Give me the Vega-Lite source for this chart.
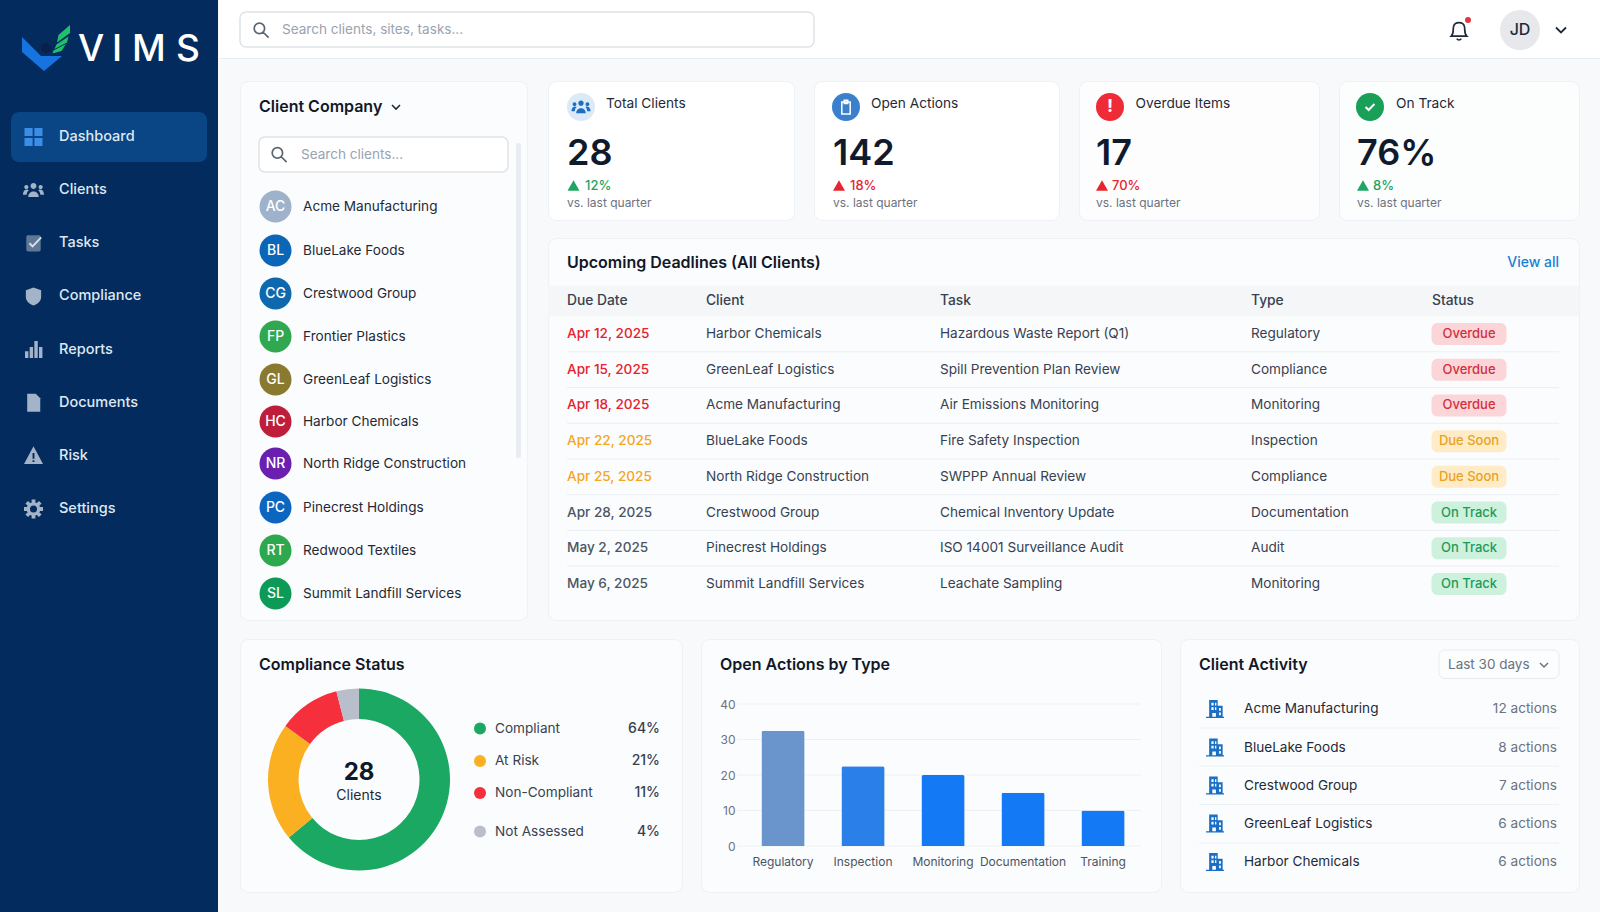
{
"$schema":"https://vega.github.io/schema/vega-lite/v6.json",
"padding":0,"background":"#f7f9fb","spacing":0,"resolve":{"scale":{"color":"independent"}},
"config":{"font":"Inter","view":{"stroke":null},"text":{"font":"Inter","baseline":"middle"},"axis":{"labelFont":"Inter"}},
"hconcat":[
{"width":218,"height":912,"view":{"fill":"#032b5e"},
"encoding":{"x":{"field":"col","type":"quantitative","axis":null,"scale":{"domain":[-1,0,1,2,3,4,5,6,7,8],"range":[46,33.5,59,91,117,149,188,11,207,109],"nice":false}},
"y":{"field":"row","type":"quantitative","axis":null,"scale":{"domain":[-1,0,7],"range":[50,137,509],"nice":false}}},
"layer":[
{"data":{"values":[{"col":8,"row":0}]},"mark":{"type":"rect","width":196,"height":50,"cornerRadius":8,"color":"#0a4585"}},
{"data":{"values":[{"col":-1,"row":-1}]},"mark":{"type":"point","filled":true,"opacity":1,"size":2500,"color":"#1673e0","shape":"M-.96 -.52L-.2 .24L.64 .24L-.08 .84L-.96 .08Z"}},
{"data":{"values":[{"col":-1,"row":-1}]},"mark":{"type":"point","filled":true,"opacity":1,"size":2500,"color":"#0a1f4a","shape":"M-.2 -.08a.2 .2 0 1 0 .4 0a.2 .2 0 1 0 -.4 0Z"}},
{"data":{"values":[{"col":-1,"row":-1}]},"mark":{"type":"point","filled":true,"opacity":1,"size":2500,"color":"#1fc16b","shape":"M.5 -.6L.96 -1L.96 -.68L.44 -.3ZM.42 -.22L.9 -.54L.84 -.3L.34 -.04ZM.3 .02L.8 -.24L.62 .04L.26 .14Z"}},
{"data":{"values":[{"col":2,"row":-1,"label":"V"},{"col":3,"row":-1,"label":"I"},{"col":4,"row":-1,"label":"M"},{"col":5,"row":-1,"label":"S"}]},"mark":{"type":"text","align":"center","fontSize":37,"fontWeight":500,"color":"#ffffff"},"encoding":{"text":{"field":"label"}}},
{"data":{"values":[{"col":0,"row":0}]},"mark":{"type":"point","filled":true,"opacity":1,"size":324,"color":"#3a8ee6","shape":"M-1 -1H-.1V-.1H-1ZM.1 -1H1V-.1H.1ZM-1 .1H-.1V1H-1ZM.1 .1H1V1H.1Z"}},
{"data":{"values":[{"col":0,"row":1}]},"mark":{"type":"point","filled":true,"opacity":1,"size":441,"color":"#a3b3c8","shape":"M-.28 -.4a.28 .28 0 1 0 .56 0a.28 .28 0 1 0 -.56 0ZM-.88 -.3a.2 .2 0 1 0 .4 0a.2 .2 0 1 0 -.4 0ZM.48 -.3a.2 .2 0 1 0 .4 0a.2 .2 0 1 0 -.4 0ZM-.5 .65C-.5 -.05 .5 -.05 .5 .65ZM-1 .45C-1 -.1 -.55 -.1 -.45 0C-.6 .1 -.65 .3 -.65 .45ZM1 .45C1 -.1 .55 -.1 .45 0C.6 .1 .65 .3 .65 .45Z"}},
{"data":{"values":[{"col":0,"row":2}]},"mark":{"type":"point","filled":true,"opacity":1,"size":324,"color":"#5f7896","shape":"M-.8 -.7C-.8 -.85 -.7 -.9 -.6 -.9H.6C.7 -.9 .8 -.85 .8 -.7V.7C.8 .85 .7 .9 .6 .9H-.6C-.7 .9 -.8 .85 -.8 .7Z"}},
{"data":{"values":[{"col":0,"row":2}]},"mark":{"type":"point","filled":false,"opacity":1,"size":324,"strokeWidth":2,"color":"#d5dde7","shape":"M-.45 0L-.1 .35L.85 -.65"}},
{"data":{"values":[{"col":0,"row":3}]},"mark":{"type":"point","filled":true,"opacity":1,"size":324,"color":"#a3b3c8","shape":"M0 -1L.85 -.7V.05C.85 .55 .4 .85 0 1C-.4 .85 -.85 .55 -.85 .05V-.7Z"}},
{"data":{"values":[{"col":0,"row":4}]},"mark":{"type":"point","filled":true,"opacity":1,"size":289,"color":"#a3b3c8","shape":"M-1 .2H-.6V1H-1ZM-.45 -.3H-.05V1H-.45ZM.1 -1H.5V1H.1ZM.65 -.3H1.05V1H.65Z"}},
{"data":{"values":[{"col":0,"row":5}]},"mark":{"type":"point","filled":true,"opacity":1,"size":324,"color":"#a3b3c8","shape":"M-.7 -1H.25L.75 -.5V1H-.7Z"}},
{"data":{"values":[{"col":0,"row":6}]},"mark":{"type":"point","filled":true,"opacity":1,"size":361,"color":"#a3b3c8","shape":"M0 -1L1 .85H-1ZM-.1 -.3V.3H.1V-.3ZM-.1 .45V.65H.1V.45Z"}},
{"data":{"values":[{"col":0,"row":7}]},"mark":{"type":"point","filled":true,"opacity":1,"size":361,"color":"#a3b3c8","shape":"M-.72 0a.72 .72 0 1 1 1.44 0a.72 .72 0 1 1 -1.44 0ZM-1 -.2H1V.2H-1ZM-.2 -1H.2V1H-.2ZM.85 .57L.57 .85L-.85 -.57L-.57 -.85ZM.57 -.85L.85 -.57L-.57 .85L-.85 .57Z"}},
{"data":{"values":[{"col":0,"row":7}]},"mark":{"type":"point","shape":"circle","filled":true,"opacity":1,"size":49,"color":"#032b5e"}},
{"data":{"values":[{"col":1,"row":0,"label":"Dashboard"},{"col":1,"row":1,"label":"Clients"},{"col":1,"row":2,"label":"Tasks"},{"col":1,"row":3,"label":"Compliance"},{"col":1,"row":4,"label":"Reports"},{"col":1,"row":5,"label":"Documents"},{"col":1,"row":6,"label":"Risk"},{"col":1,"row":7,"label":"Settings"}]},"mark":{"type":"text","align":"left","fontSize":14.5,"fontWeight":500,"color":"#dfe8f3"},"encoding":{"text":{"field":"label"}}}
]},
{"spacing":21,"resolve":{"scale":{"color":"independent"}},"vconcat":[
{"width":1382,"height":59,"view":{"fill":"#ffffff"},
"encoding":{"x":{"field":"col","type":"quantitative","axis":null,"scale":{"domain":[0,1,2,3,4,5,6,7,8,9],"range":[21,595,42,63,1240,1249,1301,1342,0,1382],"nice":false}},
"y":{"field":"row","type":"quantitative","axis":null,"scale":{"domain":[0,1,2,3,4],"range":[12,47,30,20,58.5],"nice":false}}},
"layer":[
{"data":{"values":[{"col":8,"col2":9,"row":4}]},"mark":{"type":"rule","color":"#e9edf2","strokeWidth":1},"encoding":{"x2":{"field":"col2"}}},
{"data":{"values":[{"col":0,"col2":1,"row":0,"row2":1}]},"mark":{"type":"rect","fill":"#ffffff","stroke":"#dfe3e8","strokeWidth":1.5,"cornerRadius":6},"encoding":{"x2":{"field":"col2"},"y2":{"field":"row2"}}},
{"data":{"values":[{"col":2,"row":2}]},"mark":{"type":"point","filled":false,"opacity":1,"size":256,"strokeWidth":1.7,"color":"#5b6675","shape":"M-.85 -.2a.65 .65 0 1 0 1.3 0a.65 .65 0 1 0 -1.3 0M.28 .28L.95 .95"}},
{"data":{"values":[{"col":3,"row":2,"label":"Search clients, sites, tasks..."}]},"mark":{"type":"text","align":"left","fontSize":13.55,"color":"#9aa3af"},"encoding":{"text":{"field":"label"}}},
{"data":{"values":[{"col":4,"row":2}]},"mark":{"type":"point","filled":false,"opacity":1,"size":484,"strokeWidth":1.7,"color":"#1f2937","shape":"M-.7 .55C-.45 .3 -.55 -.1 -.5 -.3C-.4 -.8 .4 -.8 .5 -.3C.55 -.1 .45 .3 .7 .55ZM-.2 .78C-.1 .95 .1 .95 .2 .78"}},
{"data":{"values":[{"col":5,"row":3}]},"mark":{"type":"point","shape":"circle","filled":true,"opacity":1,"size":36,"color":"#e5343f"}},
{"data":{"values":[{"col":6,"row":2}]},"mark":{"type":"point","shape":"circle","filled":true,"opacity":1,"size":1600,"color":"#e6e8ec"}},
{"data":{"values":[{"col":6,"row":2,"label":"JD"}]},"mark":{"type":"text","align":"center","fontSize":16,"fontWeight":500,"color":"#1f2937"},"encoding":{"text":{"field":"label"}}},
{"data":{"values":[{"col":7,"row":2}]},"mark":{"type":"point","filled":false,"opacity":1,"size":100,"strokeWidth":1.8,"color":"#1f2937","shape":"M-1 -.5L0 .5L1 -.5"}}
]},
{"spacing":0,"resolve":{"scale":{"color":"independent"}},"hconcat":[
{"width":20,"height":10,"data":{"values":[]},"mark":"text"},
{"spacing":17,"resolve":{"scale":{"color":"independent"}},"vconcat":[
{"spacing":19,"resolve":{"scale":{"color":"independent"}},"hconcat":[
{"width":287,"height":539,"view":{"fill":"#fbfcfd","stroke":"#eef1f5","cornerRadius":8},
"encoding":{"x":{"field":"col","type":"quantitative","axis":null,"scale":{"domain":[0,1,2,3,4,5,6,7,8,9],"range":[19,156,19,268,39,61,35.5,63,276,281],"nice":false}},
"y":{"field":"row","type":"quantitative","axis":null,"scale":{"domain":[-3,-2,-1.5,-1,-0.5,0,1,2,3,4,5,6,7,8,9,9.5],"range":[26,73.5,56,91,62,125.5,169.5,212.5,255.5,298.5,340.5,382.5,426.5,469.5,512.5,377],"nice":false}}},
"layer":[
{"data":{"values":[{"col":0,"row":-3,"label":"Client Company"}]},"mark":{"type":"text","align":"left","fontSize":16,"fontWeight":600,"color":"#111827"},"encoding":{"text":{"field":"label"}}},
{"data":{"values":[{"col":1,"row":-3}]},"mark":{"type":"point","filled":false,"opacity":1,"size":64,"strokeWidth":1.6,"color":"#1f2937","shape":"M-1 -.5L0 .5L1 -.5"}},
{"data":{"values":[{"col":8,"col2":9,"row":-0.5,"row2":9.5}]},"mark":{"type":"rect","color":"#e9ecf0","cornerRadius":2},"encoding":{"x2":{"field":"col2"},"y2":{"field":"row2"}}},
{"data":{"values":[{"col":2,"col2":3,"row":-1.5,"row2":-1}]},"mark":{"type":"rect","fill":"#ffffff","stroke":"#dfe3e8","strokeWidth":1.5,"cornerRadius":6},"encoding":{"x2":{"field":"col2"},"y2":{"field":"row2"}}},
{"data":{"values":[{"col":4,"row":-2}]},"mark":{"type":"point","filled":false,"opacity":1,"size":256,"strokeWidth":1.7,"color":"#5b6675","shape":"M-.85 -.2a.65 .65 0 1 0 1.3 0a.65 .65 0 1 0 -1.3 0M.28 .28L.95 .95"}},
{"data":{"values":[{"col":5,"row":-2,"label":"Search clients..."}]},"mark":{"type":"text","align":"left","fontSize":13.55,"color":"#9aa3af"},"encoding":{"text":{"field":"label"}}},
{"data":{"values":[{"row":0,"col":6,"initials":"AC"},{"row":1,"col":6,"initials":"BL"},{"row":2,"col":6,"initials":"CG"},{"row":3,"col":6,"initials":"FP"},{"row":4,"col":6,"initials":"GL"},{"row":5,"col":6,"initials":"HC"},{"row":6,"col":6,"initials":"NR"},{"row":7,"col":6,"initials":"PC"},{"row":8,"col":6,"initials":"RT"},{"row":9,"col":6,"initials":"SL"}]},
"layer":[
{"mark":{"type":"point","shape":"circle","filled":true,"opacity":1,"size":1024},"encoding":{"color":{"field":"initials","type":"nominal","legend":null,"scale":{"domain":["AC","BL","CG","FP","GL","HC","NR","PC","RT","SL"],"range":["#9fb2cb","#0b66b8","#0d68ad","#2fa84f","#8a7a2f","#be1e3c","#6a1fb0","#0c66bf","#2ea84f","#0c9a56"]}}}},
{"mark":{"type":"text","align":"center","fontSize":14,"fontWeight":500,"color":"#ffffff"},"encoding":{"text":{"field":"initials"}}}
]},
{"data":{"values":[{"row":0,"col":7,"label":"Acme Manufacturing"},{"row":1,"col":7,"label":"BlueLake Foods"},{"row":2,"col":7,"label":"Crestwood Group"},{"row":3,"col":7,"label":"Frontier Plastics"},{"row":4,"col":7,"label":"GreenLeaf Logistics"},{"row":5,"col":7,"label":"Harbor Chemicals"},{"row":6,"col":7,"label":"North Ridge Construction"},{"row":7,"col":7,"label":"Pinecrest Holdings"},{"row":8,"col":7,"label":"Redwood Textiles"},{"row":9,"col":7,"label":"Summit Landfill Services"}]},"mark":{"type":"text","align":"left","fontSize":13.6,"color":"#1f2937"},"encoding":{"text":{"field":"label"}}}
]},
{"spacing":16,"resolve":{"scale":{"color":"independent"}},"vconcat":[
{"spacing":18,"resolve":{"scale":{"color":"independent"}},"hconcat":[
{"width":246,"height":139,"view":{"fill":"#ffffff","stroke":"#eef1f5","cornerRadius":8},
"encoding":{"x":{"field":"col","type":"quantitative","axis":null,"scale":{"domain":[0,1,2,3,4],"range":[33,58,19,37,25.5],"nice":false}},
"y":{"field":"row","type":"quantitative","axis":null,"scale":{"domain":[0,1,2,3,4],"range":[26,23,73,104.5,122],"nice":false}}},
"layer":[
{"data":{"values":[{"col":0,"row":0}]},"mark":{"type":"point","shape":"circle","filled":true,"opacity":1,"size":784,"color":"#dce9f6"}},
{"data":{"values":[{"col":0,"row":0}]},"mark":{"type":"point","filled":true,"opacity":1,"size":361,"color":"#1a6fc4","shape":"M-.28 -.4a.28 .28 0 1 0 .56 0a.28 .28 0 1 0 -.56 0ZM-.88 -.3a.2 .2 0 1 0 .4 0a.2 .2 0 1 0 -.4 0ZM.48 -.3a.2 .2 0 1 0 .4 0a.2 .2 0 1 0 -.4 0ZM-.5 .65C-.5 -.05 .5 -.05 .5 .65ZM-1 .45C-1 -.1 -.55 -.1 -.45 0C-.6 .1 -.65 .3 -.65 .45ZM1 .45C1 -.1 .55 -.1 .45 0C.6 .1 .65 .3 .65 .45Z"}},
{"data":{"values":[{"col":1,"row":1,"label":"Total Clients"}]},"mark":{"type":"text","align":"left","fontSize":13.7,"fontWeight":400,"color":"#1f2937"},"encoding":{"text":{"field":"label"}}},
{"data":{"values":[{"col":2,"row":2,"label":"28"}]},"mark":{"type":"text","align":"left","fontSize":36,"fontWeight":600,"color":"#0f1b2d"},"encoding":{"text":{"field":"label"}}},
{"data":{"values":[{"col":4,"row":3}]},"mark":{"type":"point","shape":"triangle-up","filled":true,"opacity":1,"size":144,"color":"#1fa463"}},
{"data":{"values":[{"col":3,"row":3,"label":"12%"}]},"mark":{"type":"text","align":"left","fontSize":13,"fontWeight":500,"color":"#1fa463"},"encoding":{"text":{"field":"label"}}},
{"data":{"values":[{"col":2,"row":4,"label":"vs. last quarter"}]},"mark":{"type":"text","align":"left","fontSize":12,"color":"#6b7280"},"encoding":{"text":{"field":"label"}}}
]},
{"width":245,"height":139,"view":{"fill":"#ffffff","stroke":"#eef1f5","cornerRadius":8},
"encoding":{"x":{"field":"col","type":"quantitative","axis":null,"scale":{"domain":[0,1,2,3,4],"range":[32,57,19,36,25],"nice":false}},
"y":{"field":"row","type":"quantitative","axis":null,"scale":{"domain":[0,1,2,3,4],"range":[26,23,73,104.5,122],"nice":false}}},
"layer":[
{"data":{"values":[{"col":0,"row":0}]},"mark":{"type":"point","shape":"circle","filled":true,"opacity":1,"size":784,"color":"#3a80cc"}},
{"data":{"values":[{"col":0,"row":0}]},"mark":{"type":"point","filled":false,"opacity":1,"size":196,"strokeWidth":1.5,"color":"#ffffff","shape":"M-.6 -.7H.6V1H-.6ZM-.25 -.95H.25V-.5H-.25Z"}},
{"data":{"values":[{"col":1,"row":1,"label":"Open Actions"}]},"mark":{"type":"text","align":"left","fontSize":13.7,"fontWeight":400,"color":"#1f2937"},"encoding":{"text":{"field":"label"}}},
{"data":{"values":[{"col":2,"row":2,"label":"142"}]},"mark":{"type":"text","align":"left","fontSize":36,"fontWeight":600,"color":"#0f1b2d"},"encoding":{"text":{"field":"label"}}},
{"data":{"values":[{"col":4,"row":3}]},"mark":{"type":"point","shape":"triangle-up","filled":true,"opacity":1,"size":144,"color":"#e5262f"}},
{"data":{"values":[{"col":3,"row":3,"label":"18%"}]},"mark":{"type":"text","align":"left","fontSize":13,"fontWeight":500,"color":"#e5262f"},"encoding":{"text":{"field":"label"}}},
{"data":{"values":[{"col":2,"row":4,"label":"vs. last quarter"}]},"mark":{"type":"text","align":"left","fontSize":12,"color":"#6b7280"},"encoding":{"text":{"field":"label"}}}
]},
{"width":240,"height":139,"view":{"fill":"#fdfdfe","stroke":"#eef1f5","cornerRadius":8},
"encoding":{"x":{"field":"col","type":"quantitative","axis":null,"scale":{"domain":[0,1,2,3,4],"range":[31,56.6,17,33,23],"nice":false}},
"y":{"field":"row","type":"quantitative","axis":null,"scale":{"domain":[0,1,2,3,4],"range":[26,23,73,104.5,122],"nice":false}}},
"layer":[
{"data":{"values":[{"col":0,"row":0}]},"mark":{"type":"point","shape":"circle","filled":true,"opacity":1,"size":784,"color":"#ee2b36"}},
{"data":{"values":[{"col":0,"row":0,"label":"!"}]},"mark":{"type":"text","align":"center","fontSize":18,"fontWeight":700,"color":"#ffffff"},"encoding":{"text":{"field":"label"}}},
{"data":{"values":[{"col":1,"row":1,"label":"Overdue Items"}]},"mark":{"type":"text","align":"left","fontSize":13.7,"fontWeight":400,"color":"#1f2937"},"encoding":{"text":{"field":"label"}}},
{"data":{"values":[{"col":2,"row":2,"label":"17"}]},"mark":{"type":"text","align":"left","fontSize":36,"fontWeight":600,"color":"#0f1b2d"},"encoding":{"text":{"field":"label"}}},
{"data":{"values":[{"col":4,"row":3}]},"mark":{"type":"point","shape":"triangle-up","filled":true,"opacity":1,"size":144,"color":"#e5262f"}},
{"data":{"values":[{"col":3,"row":3,"label":"70%"}]},"mark":{"type":"text","align":"left","fontSize":13,"fontWeight":500,"color":"#e5262f"},"encoding":{"text":{"field":"label"}}},
{"data":{"values":[{"col":2,"row":4,"label":"vs. last quarter"}]},"mark":{"type":"text","align":"left","fontSize":12,"color":"#6b7280"},"encoding":{"text":{"field":"label"}}}
]},
{"width":240,"height":139,"view":{"fill":"#fcfdfd","stroke":"#eef1f5","cornerRadius":8},
"encoding":{"x":{"field":"col","type":"quantitative","axis":null,"scale":{"domain":[0,1,2,3,4],"range":[31,57,18,34,24],"nice":false}},
"y":{"field":"row","type":"quantitative","axis":null,"scale":{"domain":[0,1,2,3,4],"range":[26,23,73,104.5,122],"nice":false}}},
"layer":[
{"data":{"values":[{"col":0,"row":0}]},"mark":{"type":"point","shape":"circle","filled":true,"opacity":1,"size":784,"color":"#18a058"}},
{"data":{"values":[{"col":0,"row":0}]},"mark":{"type":"point","filled":false,"opacity":1,"size":121,"strokeWidth":2,"color":"#ffffff","shape":"M-.8 0L-.25 .55L.8 -.55"}},
{"data":{"values":[{"col":1,"row":1,"label":"On Track"}]},"mark":{"type":"text","align":"left","fontSize":13.7,"fontWeight":400,"color":"#1f2937"},"encoding":{"text":{"field":"label"}}},
{"data":{"values":[{"col":2,"row":2,"label":"76%"}]},"mark":{"type":"text","align":"left","fontSize":36,"fontWeight":600,"color":"#0f1b2d"},"encoding":{"text":{"field":"label"}}},
{"data":{"values":[{"col":4,"row":3}]},"mark":{"type":"point","shape":"triangle-up","filled":true,"opacity":1,"size":144,"color":"#1fa463"}},
{"data":{"values":[{"col":3,"row":3,"label":"8%"}]},"mark":{"type":"text","align":"left","fontSize":13,"fontWeight":500,"color":"#1fa463"},"encoding":{"text":{"field":"label"}}},
{"data":{"values":[{"col":2,"row":4,"label":"vs. last quarter"}]},"mark":{"type":"text","align":"left","fontSize":12,"color":"#6b7280"},"encoding":{"text":{"field":"label"}}}
]}
]},
{"width":1031,"height":382,"view":{"fill":"#fbfcfd","stroke":"#eef1f5","cornerRadius":8},
"encoding":{"x":{"field":"col","type":"quantitative","axis":null,"scale":{"domain":[-1,0,1,2,3,4,4.25,4.5,5,6],"range":[0,19,158,392,703,884,921,958,1011,1031],"nice":false}},
"y":{"field":"row","type":"quantitative","axis":null,"scale":{"domain":[0,7],"range":[96,346],"nice":false}}},
"resolve":{"scale":{"color":"independent"}},
"layer":[
{"data":{"values":[{"col":-1,"col2":6,"row":-1.35,"row2":-0.5}]},"mark":{"type":"rect","color":"#f4f6f8"},"encoding":{"x2":{"field":"col2"},"y2":{"field":"row2"}}},
{"data":{"values":[{"col":0,"col2":5,"row":0.5},{"col":0,"col2":5,"row":1.5},{"col":0,"col2":5,"row":2.5},{"col":0,"col2":5,"row":3.5},{"col":0,"col2":5,"row":4.5},{"col":0,"col2":5,"row":5.5},{"col":0,"col2":5,"row":6.5}]},"mark":{"type":"rule","color":"#eceff3","strokeWidth":1},"encoding":{"x2":{"field":"col2"}}},
{"data":{"values":[{"col":0,"row":-1.99,"label":"Upcoming Deadlines (All Clients)"}]},"mark":{"type":"text","align":"left","fontSize":16,"fontWeight":600,"color":"#111827"},"encoding":{"text":{"field":"label"}}},
{"data":{"values":[{"col":5,"row":-1.99,"label":"View all"}]},"mark":{"type":"text","align":"right","fontSize":14,"fontWeight":500,"color":"#1a7fd6"},"encoding":{"text":{"field":"label"}}},
{"data":{"values":[{"col":0,"row":-0.92,"label":"Due Date"},{"col":1,"row":-0.92,"label":"Client"},{"col":2,"row":-0.92,"label":"Task"},{"col":3,"row":-0.92,"label":"Type"},{"col":4,"row":-0.92,"label":"Status"}]},"mark":{"type":"text","align":"left","fontSize":13.8,"fontWeight":500,"color":"#374151"},"encoding":{"text":{"field":"label"}}},
{"data":{"values":[{"col":0,"row":0,"label":"Apr 12, 2025","status":"Overdue"},{"col":0,"row":1,"label":"Apr 15, 2025","status":"Overdue"},{"col":0,"row":2,"label":"Apr 18, 2025","status":"Overdue"},{"col":0,"row":3,"label":"Apr 22, 2025","status":"Due Soon"},{"col":0,"row":4,"label":"Apr 25, 2025","status":"Due Soon"},{"col":0,"row":5,"label":"Apr 28, 2025","status":"On Track"},{"col":0,"row":6,"label":"May 2, 2025","status":"On Track"},{"col":0,"row":7,"label":"May 6, 2025","status":"On Track"}]},"mark":{"type":"text","align":"left","fontSize":13.6,"fontWeight":500},"encoding":{"text":{"field":"label"},"color":{"field":"status","type":"nominal","legend":null,"scale":{"domain":["Overdue","Due Soon","On Track"],"range":["#e5222e","#f5a623","#4b5563"]}}}},
{"data":{"values":[{"col":1,"row":0,"label":"Harbor Chemicals"},{"col":1,"row":1,"label":"GreenLeaf Logistics"},{"col":1,"row":2,"label":"Acme Manufacturing"},{"col":1,"row":3,"label":"BlueLake Foods"},{"col":1,"row":4,"label":"North Ridge Construction"},{"col":1,"row":5,"label":"Crestwood Group"},{"col":1,"row":6,"label":"Pinecrest Holdings"},{"col":1,"row":7,"label":"Summit Landfill Services"},{"col":2,"row":0,"label":"Hazardous Waste Report (Q1)"},{"col":2,"row":1,"label":"Spill Prevention Plan Review"},{"col":2,"row":2,"label":"Air Emissions Monitoring"},{"col":2,"row":3,"label":"Fire Safety Inspection"},{"col":2,"row":4,"label":"SWPPP Annual Review"},{"col":2,"row":5,"label":"Chemical Inventory Update"},{"col":2,"row":6,"label":"ISO 14001 Surveillance Audit"},{"col":2,"row":7,"label":"Leachate Sampling"},{"col":3,"row":0,"label":"Regulatory"},{"col":3,"row":1,"label":"Compliance"},{"col":3,"row":2,"label":"Monitoring"},{"col":3,"row":3,"label":"Inspection"},{"col":3,"row":4,"label":"Compliance"},{"col":3,"row":5,"label":"Documentation"},{"col":3,"row":6,"label":"Audit"},{"col":3,"row":7,"label":"Monitoring"}]},"mark":{"type":"text","align":"left","fontSize":13.6,"color":"#374151"},"encoding":{"text":{"field":"label"}}},
{"data":{"values":[{"col":4.25,"row":0,"status":"Overdue"},{"col":4.25,"row":1,"status":"Overdue"},{"col":4.25,"row":2,"status":"Overdue"},{"col":4.25,"row":3,"status":"Due Soon"},{"col":4.25,"row":4,"status":"Due Soon"},{"col":4.25,"row":5,"status":"On Track"},{"col":4.25,"row":6,"status":"On Track"},{"col":4.25,"row":7,"status":"On Track"}]},
"layer":[
{"mark":{"type":"rect","width":75,"height":22,"cornerRadius":6},"encoding":{"color":{"field":"status","type":"nominal","legend":null,"scale":{"domain":["Overdue","Due Soon","On Track"],"range":["#fbd5d8","#ffecc7","#cdf1dc"]}}}},
{"mark":{"type":"text","align":"center","fontSize":13,"fontWeight":500},"encoding":{"text":{"field":"status"},"color":{"field":"status","type":"nominal","legend":null,"scale":{"domain":["Overdue","Due Soon","On Track"],"range":["#d0303f","#e8a21f","#1f9a5a"]}}}}
],"resolve":{"scale":{"color":"independent"}}}
]}
]}
]},
{"spacing":17,"resolve":{"scale":{"color":"independent"}},"hconcat":[
{"width":442,"height":253,"view":{"fill":"#fbfcfd","stroke":"#eef1f5","cornerRadius":8},
"encoding":{"x":{"field":"col","type":"quantitative","axis":null,"scale":{"domain":[0,1,2,3,4],"range":[19,240,255,420,119],"nice":false}},
"y":{"field":"row","type":"quantitative","axis":null,"scale":{"domain":[0,1,2,3,4,5,6],"range":[26,89.5,122,154,192.5,134,157],"nice":false}}},
"resolve":{"scale":{"x":"independent","y":"independent"}},
"layer":[
{"data":{"values":[{"status":"Compliant","share":64,"seq":1,"place":"donut"},{"status":"At Risk","share":21,"seq":2,"place":"donut"},{"status":"Non-Compliant","share":11,"seq":3,"place":"donut"},{"status":"Not Assessed","share":4,"seq":4,"place":"donut"}]},
"mark":{"type":"arc","innerRadius":60.5,"outerRadius":91},
"encoding":{"x":{"field":"place","type":"nominal","axis":null,"scale":{"type":"point","domain":["donut"],"range":[0,238]}},"y":{"field":"place","type":"nominal","axis":null,"scale":{"type":"point","domain":["donut"],"range":[0,281]}},"theta":{"field":"share","type":"quantitative"},"order":{"field":"seq"},"color":{"field":"status","type":"nominal","legend":null,"scale":{"domain":["Compliant","At Risk","Non-Compliant","Not Assessed"],"range":["#1aa862","#fbb022","#f5303c","#b8bfca"]}}}},
{"data":{"values":[{"col":0,"row":0,"label":"Compliance Status"}]},"mark":{"type":"text","align":"left","fontSize":16,"fontWeight":600,"color":"#111827"},"encoding":{"text":{"field":"label"}}},
{"data":{"values":[{"col":4,"row":5,"label":"28"}]},"mark":{"type":"text","align":"center","fontSize":24,"fontWeight":700,"color":"#111827"},"encoding":{"text":{"field":"label"}}},
{"data":{"values":[{"col":4,"row":6,"label":"Clients"}]},"mark":{"type":"text","align":"center","fontSize":14,"color":"#1f2937"},"encoding":{"text":{"field":"label"}}},
{"data":{"values":[{"col":1,"row":1,"status":"Compliant"},{"col":1,"row":2,"status":"At Risk"},{"col":1,"row":3,"status":"Non-Compliant"},{"col":1,"row":4,"status":"Not Assessed"}]},"mark":{"type":"point","shape":"circle","filled":true,"opacity":1,"size":144},"encoding":{"color":{"field":"status","type":"nominal","legend":null}}},
{"data":{"values":[{"col":2,"row":1,"label":"Compliant"},{"col":2,"row":2,"label":"At Risk"},{"col":2,"row":3,"label":"Non-Compliant"},{"col":2,"row":4,"label":"Not Assessed"}]},"mark":{"type":"text","align":"left","fontSize":13.6,"color":"#374151"},"encoding":{"text":{"field":"label"}}},
{"data":{"values":[{"col":3,"row":1,"label":"64%"},{"col":3,"row":2,"label":"21%"},{"col":3,"row":3,"label":"11%"},{"col":3,"row":4,"label":"4%"}]},"mark":{"type":"text","align":"right","fontSize":14,"fontWeight":500,"color":"#374151"},"encoding":{"text":{"field":"label"}}}
]},
{"width":460,"height":253,"view":{"fill":"#fbfcfd","stroke":"#eef1f5","cornerRadius":8},
"resolve":{"scale":{"x":"independent","y":"independent"},"axis":{"x":"independent","y":"independent"}},
"layer":[
{"data":{"values":[{"col":0,"row":0,"label":"Open Actions by Type"}]},"mark":{"type":"text","align":"left","fontSize":16,"fontWeight":600,"color":"#111827"},
"encoding":{"x":{"field":"col","type":"quantitative","axis":null,"scale":{"domain":[0,1],"range":[19,20],"nice":false}},"y":{"field":"row","type":"quantitative","axis":null,"scale":{"domain":[0,1],"range":[26,27],"nice":false}},"text":{"field":"label"}}},
{"data":{"values":[{"tick":0,"from":0,"to":1},{"tick":10,"from":0,"to":1},{"tick":20,"from":0,"to":1},{"tick":30,"from":0,"to":1},{"tick":40,"from":0,"to":1}]},"mark":{"type":"rule","color":"#eef1f4","strokeWidth":1},
"encoding":{"x":{"field":"from","type":"quantitative","axis":null,"scale":{"domain":[0,1],"range":[36,440],"nice":false}},"x2":{"field":"to"},"y":{"field":"tick","type":"quantitative","axis":null,"scale":{"domain":[0,40],"range":[207,65],"nice":false}}}},
{"data":{"values":[{"type":"Regulatory","actions":32.5},{"type":"Inspection","actions":22.5},{"type":"Monitoring","actions":20},{"type":"Documentation","actions":15},{"type":"Training","actions":10}]},
"mark":{"type":"bar","cornerRadiusEnd":2},
"encoding":{"x":{"field":"type","type":"nominal","sort":null,"scale":{"domain":["Regulatory","Inspection","Monitoring","Documentation","Training"],"range":[42,442],"paddingInner":0.46,"paddingOuter":0.23},"axis":{"orient":"bottom","title":null,"offset":-46,"domain":false,"ticks":false,"grid":false,"labelAngle":0,"labelFontSize":12,"labelColor":"#4b5563","labelPadding":10,"labelOverlap":false}},
"y":{"field":"actions","type":"quantitative","scale":{"domain":[0,40],"range":[207,65],"nice":false},"axis":{"orient":"left","title":null,"values":[0,10,20,30,40],"offset":-36,"domain":false,"ticks":false,"grid":false,"labelFontSize":12,"labelColor":"#6b7280","labelPadding":2}},
"color":{"field":"type","type":"nominal","legend":null,"scale":{"domain":["Regulatory","Inspection","Monitoring","Documentation","Training"],"range":["#6a95cc","#2a80e8","#1479f5","#1479f5","#1479f5"]}}}}
]},
{"width":399,"height":253,"view":{"fill":"#fbfcfd","stroke":"#eef1f5","cornerRadius":8},
"encoding":{"x":{"field":"col","type":"quantitative","axis":null,"scale":{"domain":[0,1,2,3,4,5,6,7],"range":[19,379,259,268,364,35,64,377],"nice":false}},
"y":{"field":"row","type":"quantitative","axis":null,"scale":{"domain":[-1.5,-1,-0.5,0,0.5,1,1.5,2,2.5,3,3.5,4],"range":[11,26,39.5,70,89,108.5,127,146.5,165.5,184.5,204,223],"nice":false}}},
"layer":[
{"data":{"values":[{"col":0,"row":-1,"label":"Client Activity"}]},"mark":{"type":"text","align":"left","fontSize":16,"fontWeight":600,"color":"#111827"},"encoding":{"text":{"field":"label"}}},
{"data":{"values":[{"col":2,"col2":1,"row":-1.5,"row2":-0.5}]},"mark":{"type":"rect","fill":"#fcfdfd","stroke":"#e8ebef","strokeWidth":1,"cornerRadius":6},"encoding":{"x2":{"field":"col2"},"y2":{"field":"row2"}}},
{"data":{"values":[{"col":3,"row":-1,"label":"Last 30 days"}]},"mark":{"type":"text","align":"left","fontSize":13.5,"color":"#6b7280"},"encoding":{"text":{"field":"label"}}},
{"data":{"values":[{"col":4,"row":-1}]},"mark":{"type":"point","filled":false,"opacity":1,"size":64,"strokeWidth":1.5,"color":"#6b7280","shape":"M-1 -.5L0 .5L1 -.5"}},
{"data":{"values":[{"col":0,"col2":1,"row":0.5},{"col":0,"col2":1,"row":1.5},{"col":0,"col2":1,"row":2.5},{"col":0,"col2":1,"row":3.5}]},"mark":{"type":"rule","color":"#eef1f4","strokeWidth":1},"encoding":{"x2":{"field":"col2"}}},
{"data":{"values":[{"col":5,"row":0},{"col":5,"row":1},{"col":5,"row":2},{"col":5,"row":3},{"col":5,"row":4}]},"mark":{"type":"point","filled":true,"opacity":1,"size":324,"color":"#1a6fc4","shape":"M-.65 -1H.3V-.35H.85V.85H1V1H-1V.85H-.65ZM-.4 -.7V-.4H-.15V-.7ZM0 -.7V-.4H.15V-.7ZM-.4 -.2V.1H-.15V-.2ZM0 -.2V.1H.15V-.2ZM.45 -.1V.2H.65V-.1ZM.45 .4V.7H.65V.4ZM-.3 .45V.85H.1V.45Z"}},
{"data":{"values":[{"col":6,"row":0,"label":"Acme Manufacturing"},{"col":6,"row":1,"label":"BlueLake Foods"},{"col":6,"row":2,"label":"Crestwood Group"},{"col":6,"row":3,"label":"GreenLeaf Logistics"},{"col":6,"row":4,"label":"Harbor Chemicals"}]},"mark":{"type":"text","align":"left","fontSize":13.6,"color":"#1f2937"},"encoding":{"text":{"field":"label"}}},
{"data":{"values":[{"col":7,"row":0,"label":"12 actions"},{"col":7,"row":1,"label":"8 actions"},{"col":7,"row":2,"label":"7 actions"},{"col":7,"row":3,"label":"6 actions"},{"col":7,"row":4,"label":"6 actions"}]},"mark":{"type":"text","align":"right","fontSize":13.6,"color":"#6b7280"},"encoding":{"text":{"field":"label"}}}
]}
]}
]}
]}
]}
]
}
